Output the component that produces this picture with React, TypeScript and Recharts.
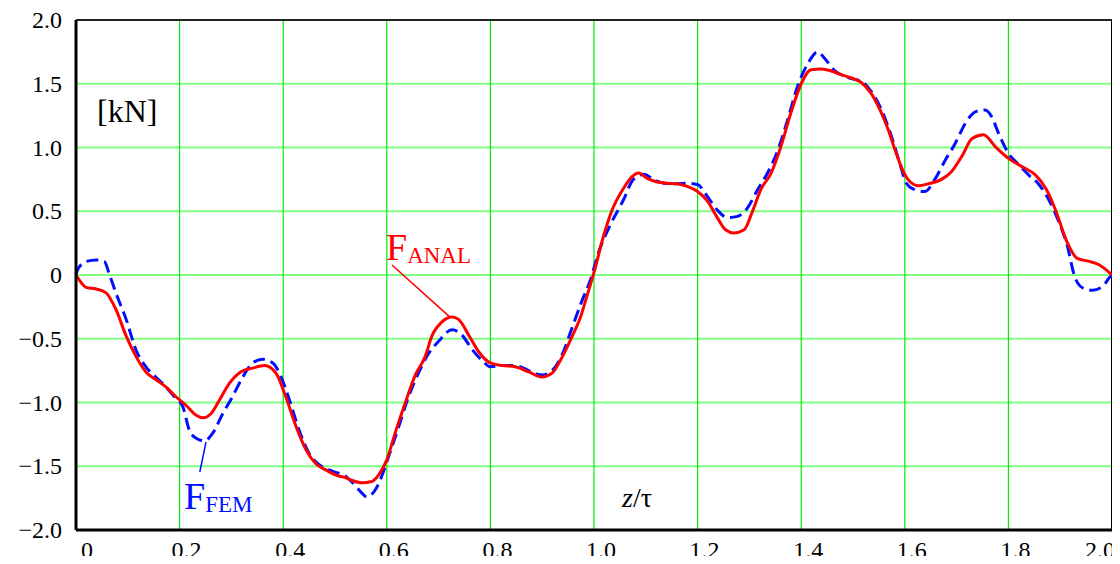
import React from 'react'
import { LineChart, Line, CartesianGrid, XAxis, YAxis, ReferenceLine } from 'recharts'

// z/tau positions and force values
const zAnal = [0, 0.01, 0.019, 0.039, 0.058, 0.077, 0.097, 0.116, 0.135, 0.154, 0.174, 0.193, 0.212, 0.232, 0.245, 0.26, 0.277, 0.296, 0.318, 0.341, 0.364, 0.386, 0.405, 0.425, 0.444, 0.463, 0.483, 0.502, 0.521, 0.532, 0.552, 0.571, 0.584, 0.6, 0.616, 0.635, 0.655, 0.674, 0.687, 0.706, 0.726, 0.739, 0.758, 0.777, 0.8, 0.823, 0.848, 0.874, 0.9, 0.919, 0.939, 0.958, 0.974, 0.986, 1.0, 1.018, 1.034, 1.057, 1.073, 1.086, 1.102, 1.122, 1.141, 1.16, 1.18, 1.2, 1.219, 1.238, 1.254, 1.27, 1.29, 1.306, 1.322, 1.342, 1.361, 1.38, 1.4, 1.419, 1.439, 1.458, 1.478, 1.497, 1.516, 1.535, 1.555, 1.568, 1.58, 1.594, 1.606, 1.626, 1.645, 1.671, 1.69, 1.71, 1.73, 1.752, 1.775, 1.8, 1.826, 1.852, 1.872, 1.891, 1.911, 1.933, 1.956, 1.975, 2.0]
const fAnal = [0, -0.06, -0.097, -0.11, -0.14, -0.27, -0.48, -0.64, -0.76, -0.82, -0.88, -0.955, -1.02, -1.1, -1.12, -1.09, -0.98, -0.85, -0.76, -0.73, -0.71, -0.77, -0.955, -1.19, -1.37, -1.48, -1.53, -1.57, -1.59, -1.61, -1.63, -1.62, -1.57, -1.45, -1.24, -1.01, -0.785, -0.64, -0.48, -0.37, -0.33, -0.35, -0.47, -0.6, -0.69, -0.71, -0.72, -0.76, -0.8, -0.77, -0.64, -0.48, -0.33, -0.17, 0.02, 0.3, 0.5, 0.68, 0.77, 0.8, 0.76, 0.73, 0.72, 0.715, 0.695, 0.655, 0.58, 0.45, 0.355, 0.33, 0.355, 0.5, 0.67, 0.8, 1.01, 1.27, 1.5, 1.61, 1.615, 1.6, 1.57, 1.545, 1.51, 1.425, 1.27, 1.14, 0.995, 0.84, 0.75, 0.7, 0.715, 0.75, 0.81, 0.93, 1.07, 1.1, 1.005, 0.915, 0.85, 0.785, 0.68, 0.51, 0.28, 0.13, 0.107, 0.08, 0]

const zFem = [0, 0.003, 0.019, 0.039, 0.055, 0.064, 0.077, 0.097, 0.116, 0.135, 0.154, 0.174, 0.193, 0.206, 0.219, 0.232, 0.248, 0.264, 0.283, 0.302, 0.322, 0.341, 0.36, 0.38, 0.396, 0.412, 0.431, 0.45, 0.47, 0.496, 0.521, 0.532, 0.552, 0.561, 0.577, 0.59, 0.603, 0.623, 0.642, 0.661, 0.68, 0.7, 0.726, 0.745, 0.764, 0.784, 0.8, 0.823, 0.848, 0.874, 0.9, 0.919, 0.939, 0.958, 0.977, 0.993, 1.009, 1.03, 1.057, 1.076, 1.096, 1.115, 1.135, 1.154, 1.18, 1.2, 1.219, 1.238, 1.258, 1.277, 1.296, 1.316, 1.335, 1.355, 1.374, 1.393, 1.413, 1.432, 1.445, 1.465, 1.484, 1.497, 1.516, 1.535, 1.555, 1.574, 1.59, 1.603, 1.619, 1.639, 1.658, 1.678, 1.697, 1.717, 1.736, 1.755, 1.768, 1.781, 1.8, 1.82, 1.839, 1.859, 1.878, 1.898, 1.914, 1.927, 1.943, 1.962, 1.982, 1.995, 2.0]
const fFem = [0, 0.04, 0.105, 0.118, 0.105, 0.01, -0.14, -0.35, -0.59, -0.72, -0.8, -0.88, -0.97, -1.03, -1.22, -1.28, -1.3, -1.24, -1.09, -0.955, -0.8, -0.69, -0.66, -0.69, -0.8, -0.98, -1.22, -1.4, -1.49, -1.54, -1.58, -1.62, -1.71, -1.74, -1.69, -1.58, -1.43, -1.19, -0.955, -0.77, -0.62, -0.52, -0.43, -0.47, -0.58, -0.67, -0.72, -0.71, -0.71, -0.75, -0.785, -0.75, -0.62, -0.41, -0.2, -0.04, 0.18, 0.38, 0.59, 0.75, 0.79, 0.75, 0.72, 0.715, 0.72, 0.71, 0.615, 0.51, 0.45, 0.46, 0.525, 0.67, 0.8, 0.98, 1.22, 1.48, 1.66, 1.75, 1.7, 1.6, 1.56, 1.54, 1.52, 1.44, 1.295, 1.09, 0.88, 0.72, 0.67, 0.655, 0.75, 0.9, 1.03, 1.19, 1.28, 1.295, 1.24, 1.11, 0.955, 0.865, 0.785, 0.71, 0.59, 0.41, 0.225, 0, -0.1, -0.12, -0.09, -0.02, 0]

const xTicks = [0, 0.2, 0.4, 0.6, 0.8, 1.0, 1.2, 1.4, 1.6, 1.8, 2.0]
const xTickLabels = ['0', '0.2', '0.4', '0.6', '0.8', '1.0', '1.2', '1.4', '1.6', '1.8', '2.0']
const yTicks = [-2, -1.5, -1, -0.5, 0, 0.5, 1, 1.5, 2]
const yTickLabels = ['\u22122.0', '\u22121.5', '\u22121.0', '\u22120.5', '0', '0.5', '1.0', '1.5', '2.0']

const analData = zAnal.map((z, i) => ({ z, f: fAnal[i] }))
const femData = zFem.map((z, i) => ({ z, f: fFem[i] }))

const font = '"Liberation Serif", "Times New Roman", serif'
const serif = { fontFamily: font }

const XTick = (props: any) => {
  const { x, index } = props
  let dx = 7
  if (index === 0) dx = 11
  if (index === xTicks.length - 1) dx = -12
  return (
    <text x={x + dx} y={558} textAnchor="middle" style={serif} fontSize={24} fill="#000">
      {xTickLabels[index]}
    </text>
  )
}

const YTick = (props: any) => {
  const { y, index } = props
  return (
    <text x={62} y={y} dy={8} textAnchor="end" style={serif} fontSize={24} fill="#000">
      {yTickLabels[index]}
    </text>
  )
}

export default function App() {
  return (
    <div style={{ margin: -8, position: 'relative', width: 1120, height: 564, background: '#fff' }}>
      <LineChart width={1120} height={564} margin={{ top: 20, right: 8, bottom: 0, left: 0 }}>
        <CartesianGrid vertical={false} stroke="#80ff80" strokeWidth={2} />
        <CartesianGrid horizontal={false} stroke="#00ee00" strokeWidth={1.2} />
        <XAxis
          dataKey="z"
          type="number"
          domain={[0, 2]}
          ticks={xTicks}
          height={34}
          tickLine={false}
          axisLine={{ stroke: '#000', strokeWidth: 3 }}
          tick={<XTick />}
          interval={0}
        />
        <YAxis
          type="number"
          domain={[-2, 2]}
          ticks={yTicks}
          width={76}
          tickLine={false}
          axisLine={{ stroke: '#000', strokeWidth: 3 }}
          tick={<YTick />}
          interval={0}
        />
        <ReferenceLine y={2} stroke="#222" strokeWidth={2} />
        <ReferenceLine x={2} stroke="#000" strokeWidth={2} />
        <Line data={femData} dataKey="f" type="monotone" stroke="#0010ff" strokeWidth={3} strokeDasharray="12 6" dot={false} isAnimationActive={false} />
        <Line data={analData} dataKey="f" type="monotone" stroke="#ff0000" strokeWidth={3} dot={false} isAnimationActive={false} />
        <ReferenceLine segment={[{ x: 0.61, y: 0.078 }, { x: 0.722, y: -0.33 }]} stroke="#ff0000" strokeWidth={1.5} />
        <ReferenceLine segment={[{ x: 0.239, y: -1.545 }, { x: 0.251, y: -1.31 }]} stroke="#0010ff" strokeWidth={1.5} />
      </LineChart>
      <svg width={1120} height={564} style={{ position: 'absolute', left: 0, top: 0, pointerEvents: 'none' }}>
        <text x={97} y={122} style={serif} fontSize={32} fill="#000">[kN]</text>
        <text x={386} y={260} style={serif} fill="#ff0000">
          <tspan fontSize={38}>F</tspan>
          <tspan fontSize={23} dy={3}>ANAL</tspan>
        </text>
        <text x={184} y={509} style={serif} fill="#0010ff">
          <tspan fontSize={38}>F</tspan>
          <tspan fontSize={23} dy={3}>FEM</tspan>
        </text>
        <text x={622} y={507} style={serif} fontSize={28} fill="#000">
          <tspan fontStyle="italic">z</tspan>
          <tspan>/τ</tspan>
        </text>
      </svg>
    </div>
  )
}
